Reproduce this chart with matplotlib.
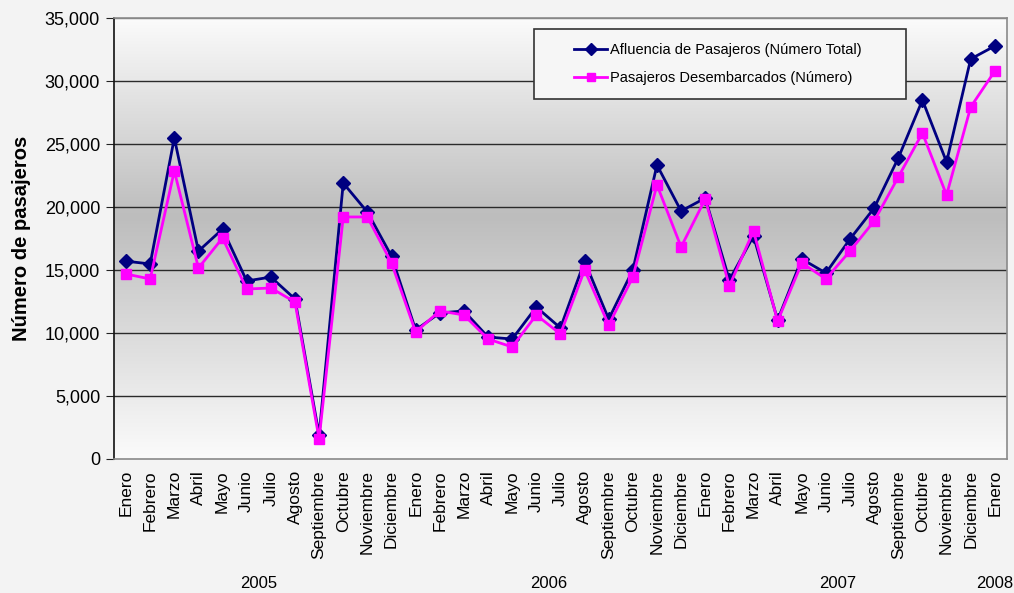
import numpy as np
import matplotlib.pyplot as plt
import matplotlib.transforms as mtransforms
from matplotlib.colors import LinearSegmentedColormap
from matplotlib.patches import Rectangle

plt.rcParams['font.family'] = ['Liberation Sans', 'DejaVu Sans']

meses = ["Enero", "Febrero", "Marzo", "Abril", "Mayo", "Junio", "Julio", "Agosto",
         "Septiembre", "Octubre", "Noviembre", "Diciembre"]
etiquetas = meses * 3 + ["Enero"]
anios = ["2005", "2006", "2007", "2008"]
anio_pos = [5.5, 17.5, 29.5, 36]   # center of each year group (category index)

afluencia = [15700, 15480, 25480, 16500, 18250, 14130, 14440, 12700, 1900, 21900,
             19600, 16100, 10240, 11590, 11750, 9680, 9520, 12060, 10400, 15700,
             11100, 15000, 23330, 19680, 20710, 14200, 17700, 11030, 15870, 14760,
             17460, 19920, 23890, 28490, 23570, 31750, 32780]
desembarcados = [14680, 14290, 22860, 15160, 17540, 13490, 13570, 12460, 1590, 19210,
                 19210, 15560, 10080, 11750, 11430, 9520, 8890, 11430, 9920, 15000,
                 10630, 14440, 21750, 16830, 20630, 13730, 18100, 10950, 15560, 14290,
                 16510, 18890, 22380, 25870, 20950, 27940, 30790]

fig = plt.figure(figsize=(10.14, 5.93), dpi=100, facecolor="#f3f3f3")
ax = fig.add_axes([0.1124, 0.226, 0.8806, 0.7436])

x = np.arange(len(etiquetas))
xmin, xmax = -0.5, len(etiquetas) - 0.5

# gradient plot background: white - gray - white
cmap = LinearSegmentedColormap.from_list("g", [(0, "#fbfbfb"), (0.55, "#bdbdbd"), (1, "#fbfbfb")])
grad = np.linspace(0, 1, 256).reshape(-1, 1)
ax.imshow(grad, cmap=cmap, aspect="auto", extent=[xmin, xmax, 0, 35000],
          origin="lower", zorder=0, vmin=0, vmax=1)

for yv in range(5000, 35001, 5000):
    ax.axhline(yv, color="#2a2a2a" if yv < 35000 else "#7a7a7a", lw=1.0, zorder=1)

ax.plot(x, afluencia, color="#000080", marker="D", markersize=7, lw=2,
        label="Afluencia de Pasajeros (Número Total)", zorder=2)
ax.plot(x, desembarcados, color="#ff00ff", marker="s", markersize=7.5, lw=2,
        label="Pasajeros Desembarcados (Número)", zorder=3)

ax.set_xlim(xmin, xmax)
ax.set_ylim(0, 35000)
ax.set_yticks(range(0, 35001, 5000))
ax.set_yticklabels([f"{v:,}" for v in range(0, 35001, 5000)], fontsize=13)
ax.set_xticks(x)
ax.set_xticklabels(etiquetas, rotation=90, fontsize=12.5)
ax.tick_params(axis="x", length=0, pad=8)
ax.tick_params(axis="y", length=6, direction="out", color="#222222", pad=4)

ax.spines["left"].set_color("#111111")
ax.spines["left"].set_linewidth(1.2)
for s in ["top", "right", "bottom"]:
    ax.spines[s].set_color("#8a8a8a")
    ax.spines[s].set_linewidth(1.2)

ax.set_ylabel("Número de pasajeros", fontsize=14.5, fontweight="bold", labelpad=10)

trans = mtransforms.blended_transform_factory(ax.transData, fig.transFigure)
for a, p in zip(anios, anio_pos):
    ax.text(p, 1 - 583 / 593, a, transform=trans, ha="center", va="center", fontsize=12)

# legend frame drawn separately so the entries can sit indented as in the original
ax.add_patch(Rectangle((0.470, 0.816), 0.417, 0.159, transform=ax.transAxes,
                       facecolor="#f6f6f6", edgecolor="#333333", lw=1.2, zorder=5))
leg = ax.legend(loc="center left", bbox_to_anchor=(0.515, 0.8955), frameon=False,
                fontsize=10.5, handlelength=2.3, borderaxespad=0, labelspacing=1.0,
                borderpad=0, handletextpad=0.2, markerscale=0.85)
leg.set_zorder(6)

fig.savefig("out.png", dpi=100, facecolor=fig.get_facecolor())
